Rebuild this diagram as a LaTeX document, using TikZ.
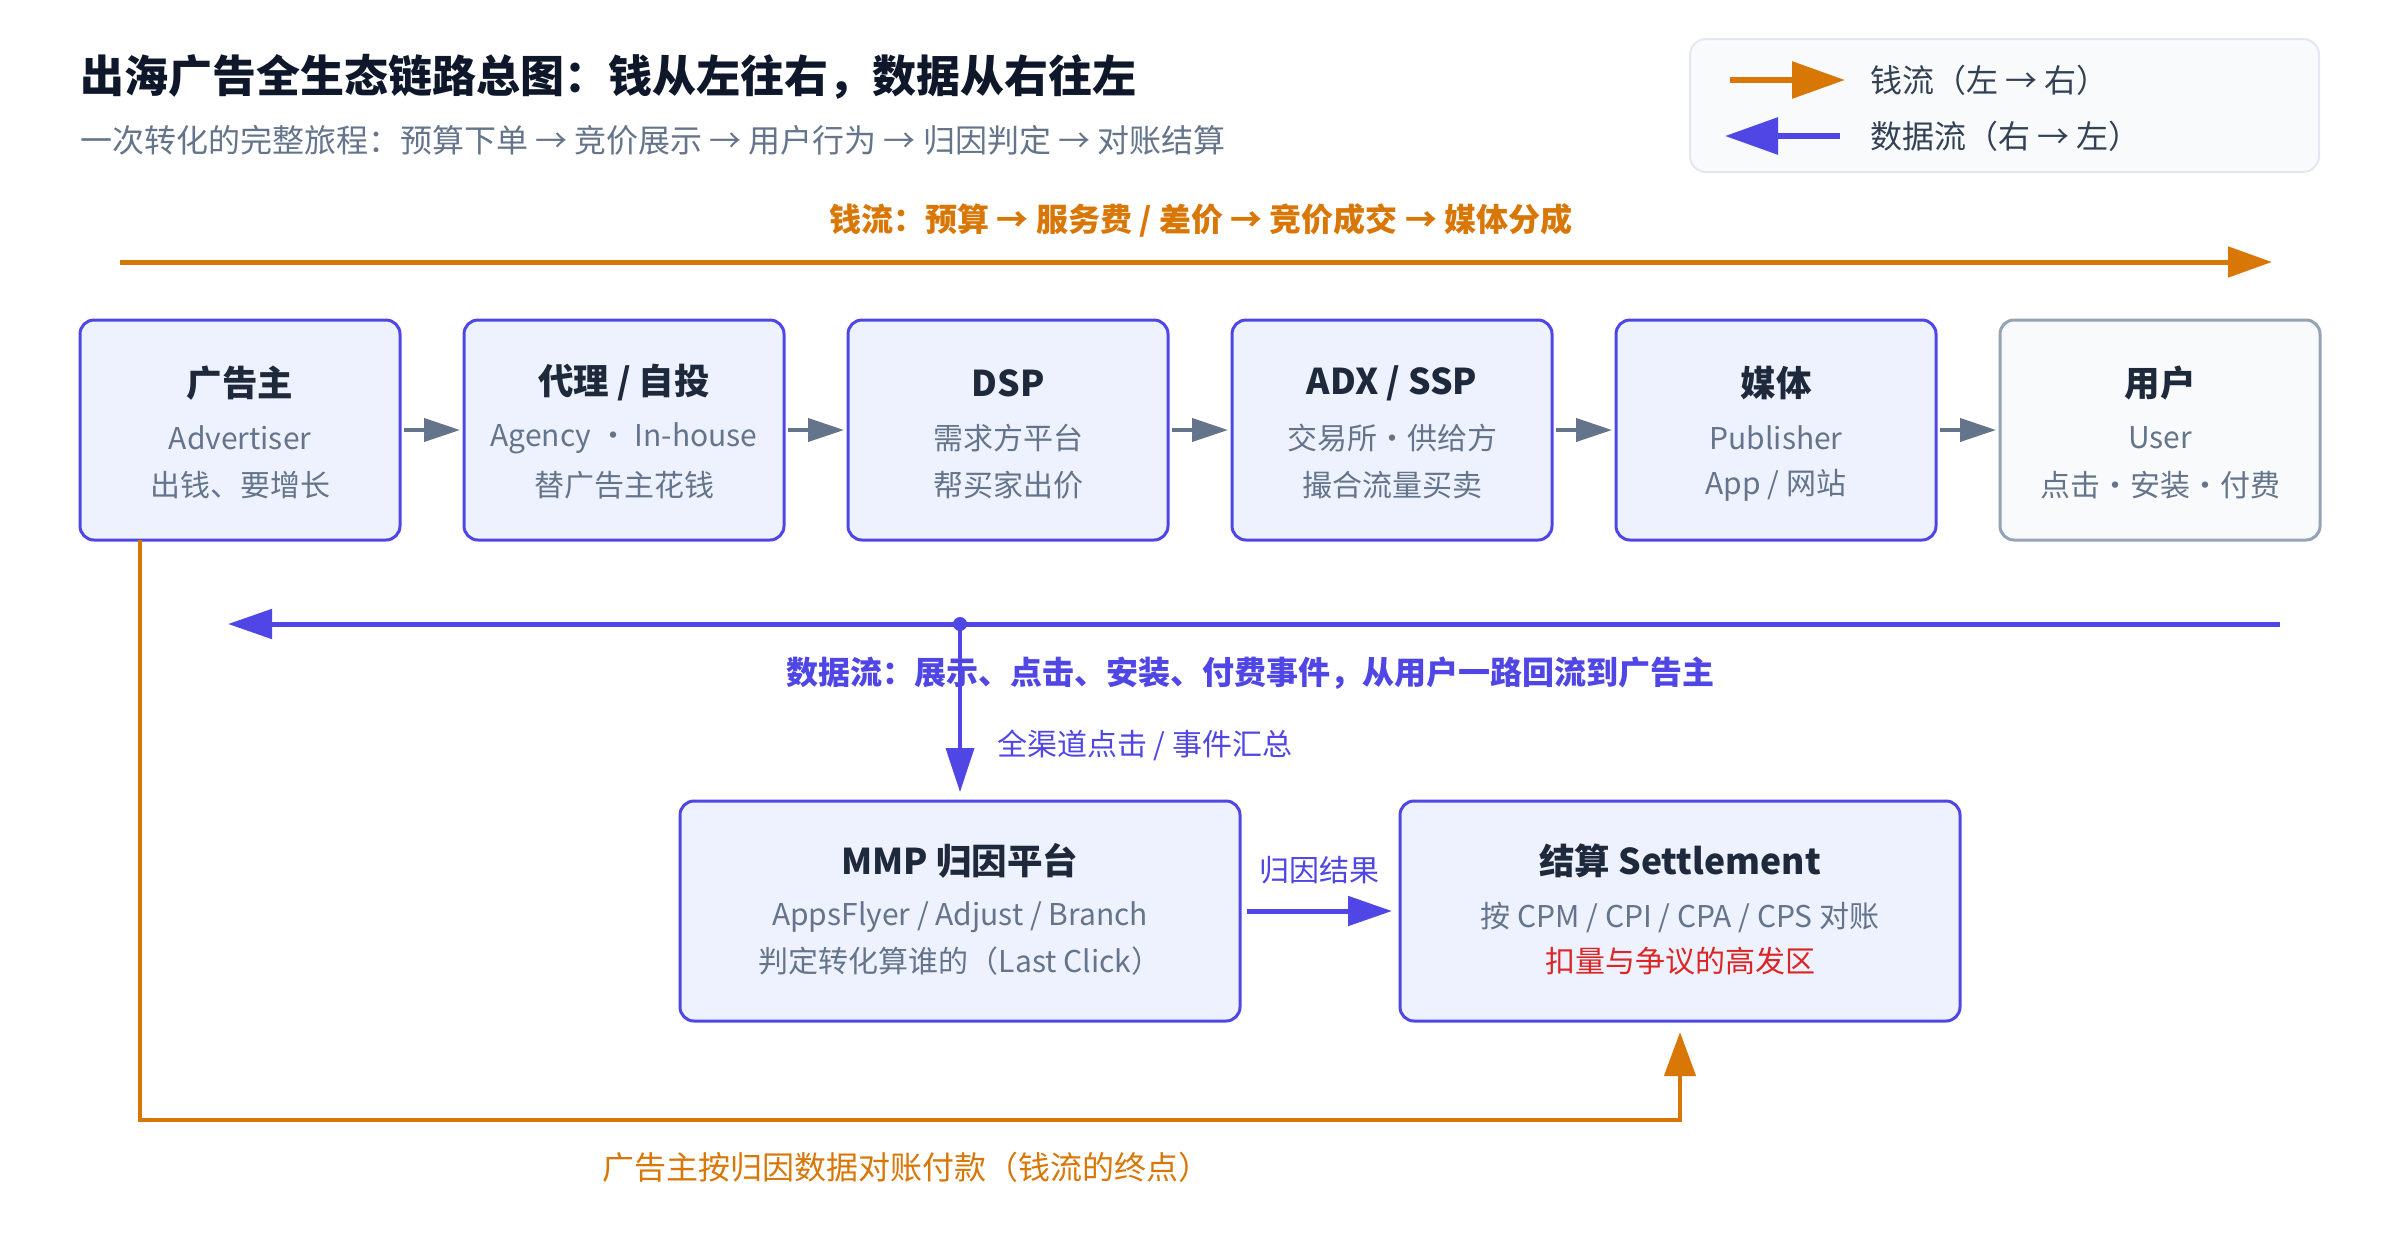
\documentclass[tikz,border=0pt]{standalone}
\usepackage{fontspec}
\setmainfont{Noto Sans CJK SC}
\usetikzlibrary{arrows.meta,calc}
\definecolor{indigo}{HTML}{4F46E5}
\definecolor{orng}{HTML}{D97706}
\definecolor{slate}{HTML}{64748B}
\definecolor{ink}{HTML}{1E293B}
\definecolor{navy}{HTML}{0F172A}
\definecolor{boxfill}{HTML}{EEF2FF}
\definecolor{userfill}{HTML}{F8FAFC}
\definecolor{userline}{HTML}{94A3B8}
\definecolor{legline}{HTML}{E2E8F0}
\definecolor{legtext}{HTML}{334155}
\definecolor{alert}{HTML}{DC2626}
\newcommand{\fsz}[1]{\fontsize{#1}{#1}\selectfont}
\begin{document}
\begin{tikzpicture}[x=1pt,y=-1pt,
  every node/.style={inner sep=0pt, outer sep=0pt},
  stagebox/.style={draw=indigo, line width=3pt, fill=boxfill, rounded corners=14pt,
    minimum width=320pt, minimum height=220pt},
  userbox/.style={stagebox, draw=userline, fill=userfill},
  wideBox/.style={stagebox, minimum width=560pt},
  boxtitle/.style={font=\fsz{35.5}\bfseries, text=ink},
  boxsub/.style={font=\fsz{30}, text=slate},
  smallarrow/.style={draw=slate, line width=4pt, -{Triangle[length=36pt,width=23pt]},
    shorten <=4pt, shorten >=4pt},
]
\useasboundingbox (0,0) rectangle (2400,1240);
\fill[white] (0,0) rectangle (2400,1240);

% title
\node[anchor=west, font=\fsz{44}\bfseries, text=navy] (title) at (80,77) {出海广告全生态链路总图：钱从左往右，数据从右往左};
\node[anchor=west, font=\fsz{32}, text=slate] (subtitle) at (80,140) {一次转化的完整旅程：预算下单 → 竞价展示 → 用户行为 → 归因判定 → 对账结算};

% legend
\node[draw=legline, line width=2pt, fill=userfill, rounded corners=16pt,
  minimum width=629pt, minimum height=133pt] (legend) at (2004.5,105.5) {};
\coordinate (lgA1) at (1730,80);
\coordinate (lgA2) at (1845,80);
\coordinate (lgB1) at (1840,136);
\coordinate (lgB2) at (1725,136);
\draw[orng, line width=6pt, -{Triangle[length=53pt,width=36pt]}] (lgA1) -- (lgA2);
\draw[indigo, line width=6pt, -{Triangle[length=53pt,width=36pt]}] (lgB1) -- (lgB2);
\node[anchor=west, font=\fsz{32}, text=legtext] (lgAt) at (1870,80) {钱流（左 → 右）};
\node[anchor=west, font=\fsz{32}, text=legtext] (lgBt) at (1870,136) {数据流（右 → 左）};

% money flow
\node[font=\fsz{32}\bfseries, text=orng] (moneylbl) at (1201,220) {钱流：预算 → 服务费 / 差价 → 竞价成交 → 媒体分成};
\coordinate (mL) at (120,262);
\coordinate (mR) at (2272,262);
\draw[orng, line width=5pt, -{Triangle[length=44pt,width=30pt]}] (mL) -- (mR);

% stage boxes
\node[stagebox] (b1) at (240,430) {};
\node[stagebox] (b2) at (624,430) {};
\node[stagebox] (b3) at (1008,430) {};
\node[stagebox] (b4) at (1392,430) {};
\node[stagebox] (b5) at (1776,430) {};
\node[userbox]  (b6) at (2160,430) {};

\node[boxtitle] (b1t) at ($(b1.center)+(0,-47)$) {广告主};
\node[boxsub]   (b1a) at ($(b1.center)+(0,8)$) {Advertiser};
\node[boxsub]   (b1b) at ($(b1.center)+(0,55)$) {出钱、要增长};

\node[boxtitle] (b2t) at ($(b2.center)+(0,-47)$) {代理 / 自投};
\node[boxsub]   (b2a) at ($(b2.center)+(0,8)$) {Agency · In-house};
\node[boxsub]   (b2b) at ($(b2.center)+(0,55)$) {替广告主花钱};

\node[boxtitle] (b3t) at ($(b3.center)+(0,-47)$) {DSP};
\node[boxsub]   (b3a) at ($(b3.center)+(0,8)$) {需求方平台};
\node[boxsub]   (b3b) at ($(b3.center)+(0,55)$) {帮买家出价};

\node[boxtitle] (b4t) at ($(b4.center)+(0,-47)$) {ADX / SSP};
\node[boxsub]   (b4a) at ($(b4.center)+(0,8)$) {交易所·供给方};
\node[boxsub]   (b4b) at ($(b4.center)+(0,55)$) {撮合流量买卖};

\node[boxtitle] (b5t) at ($(b5.center)+(0,-47)$) {媒体};
\node[boxsub]   (b5a) at ($(b5.center)+(0,8)$) {Publisher};
\node[boxsub]   (b5b) at ($(b5.center)+(0,55)$) {App / 网站};

\node[boxtitle] (b6t) at ($(b6.center)+(0,-47)$) {用户};
\node[boxsub]   (b6a) at ($(b6.center)+(0,8)$) {User};
\node[boxsub]   (b6b) at ($(b6.center)+(0,55)$) {点击·安装·付费};

\draw[smallarrow] (b1.east) -- (b2.west);
\draw[smallarrow] (b2.east) -- (b3.west);
\draw[smallarrow] (b3.east) -- (b4.west);
\draw[smallarrow] (b4.east) -- (b5.west);
\draw[smallarrow] (b5.east) -- (b6.west);

% data flow
\coordinate (dR) at (2280,624);
\coordinate (dL) at (228,624);
\draw[indigo, line width=5pt, -{Triangle[length=44pt,width=29pt]}] (dR) -- (dL);
\node[font=\fsz{32}\bfseries, text=indigo] (datalbl) at (1250,673) {数据流：展示、点击、安装、付费事件，从用户一路回流到广告主};
\node[anchor=west, font=\fsz{30}, text=indigo] (aggr) at (997,745) {全渠道点击 / 事件汇总};

% lower boxes
\node[wideBox] (mmp) at (960,911) {};
\node[wideBox] (sett) at (1680,911) {};
\node[boxtitle] (mmpt) at ($(mmp.center)+(0,-50)$) {MMP 归因平台};
\node[boxsub]   (mmpa) at ($(mmp.center)+(0,6)$) {AppsFlyer / Adjust / Branch};
\node[boxsub]   (mmpb) at ($(mmp.center)+(0,50)$) {判定转化算谁的（Last Click）};
\node[boxtitle] (settt) at ($(sett.center)+(0,-50)$) {结算 Settlement};
\node[boxsub]   (setta) at ($(sett.center)+(0,6)$) {按 CPM / CPI / CPA / CPS 对账};
\node[boxsub, text=alert] (settb) at ($(sett.center)+(0,50)$) {扣量与争议的高发区};

\node[circle, fill=indigo, minimum size=14pt] (dot) at (960,624) {};
\draw[indigo, line width=3.5pt, -{Triangle[length=44pt,width=28pt]}, shorten >=9pt] (dot.center) -- (mmp.north);

\draw[indigo, line width=5pt, -{Triangle[length=44pt,width=29pt]}, shorten <=7pt, shorten >=8pt] (mmp.east) -- (sett.west);
\node[font=\fsz{30}, text=indigo] (attrlbl) at (1319,870) {归因结果};

% settlement payment path
\coordinate (paySrc) at ($(b1.south west)+(60,0)$);
\draw[orng, line width=4.5pt, -{Triangle[length=44pt,width=31pt]}, shorten >=11pt]
  (paySrc) |- ($(sett.south)+(0,99)$) -- (sett.south);
\node[font=\fsz{32}, text=orng] (paylbl) at (906,1167) {广告主按归因数据对账付款（钱流的终点）};
\end{tikzpicture}
\end{document}
